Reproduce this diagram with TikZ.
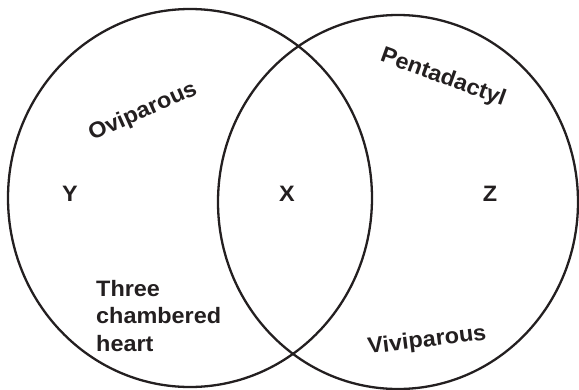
\documentclass[tikz,border=0pt]{standalone}
\usepackage{fontspec}
\setmainfont{Liberation Sans}[FakeStretch=1.05]
\usetikzlibrary{shapes.geometric}
\definecolor{vennink}{RGB}{35,31,32}

\begin{document}
\begin{tikzpicture}[x=1pt, y=-1pt,
    venn/.style={draw=vennink, ellipse, line width=2.3pt, inner sep=0pt},
    lbl/.style={font=\fontsize{22.3}{27.4}\selectfont\bfseries, text=vennink,
                inner sep=0pt}
  ]
    \useasboundingbox (0,0) rectangle (579,389);

    % the two sets
    \node[venn, minimum width=364pt, minimum height=378pt] (leftset)  at (190,198) {};
    \node[venn, minimum width=360pt, minimum height=374pt] (rightset) at (398,202) {};

    % region letters
    \node[lbl] (ylbl) at (70,194)  {Y};
    \node[lbl] (xlbl) at (287,194) {X};
    \node[lbl] (zlbl) at (490,194) {Z};

    % traits
    \node[lbl, rotate=24]  (ovi)   at (143,112) {Oviparous};
    \node[lbl, rotate=-20] (penta) at (443,78)  {Pentadactyl};
    \node[lbl, rotate=7]   (vivi)  at (427,341) {Viviparous};
    \node[lbl, align=left, anchor=north west] (heart) at (96,280)
      {Three\\chambered\\heart};
  \end{tikzpicture}
\end{document}
